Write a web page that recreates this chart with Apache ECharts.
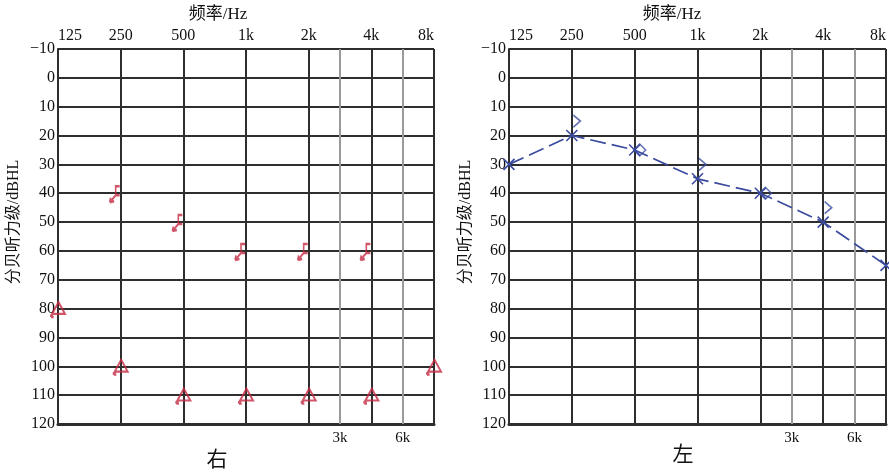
<!DOCTYPE html>
<html><head><meta charset="utf-8">
<script src="https://cdn.jsdelivr.net/npm/echarts@6/dist/echarts.min.js"></script>
<style>html,body{margin:0;padding:0;background:#fff}#c{width:889px;height:473px}</style>
</head><body><div id="c"></div>
<script>
// ---- data ----
const freqLabels = ['125', '250', '500', '1k', '2k', '4k', '8k'];
const midFreqLabels = ['3k', '6k'];          // drawn between 2k–4k and 4k–8k
const midFreqPos = [4.5, 5.5];
const dbTicks = [-10, 0, 10, 20, 30, 40, 50, 60, 70, 80, 90, 100, 110, 120];
// right ear (右)
const rightBoneMaskedNR = [null, 40, 50, 60, 60, 60, null];
const rightAirMaskedNR = [80, 100, 110, 110, 110, 110, 100];
// left ear (左)
const leftAir = [30, 20, 25, 35, 40, 50, 65];
const leftBone = [null, 15, 25, 30, 40, 45, null];
const leftBoneDiamondFreqs = ['500', '2k'];

// ---- helpers ----
const pts = arr => arr.map((v, i) => v == null ? null : [i, v]).filter(p => p);
const FONT = "'Liberation Serif','Noto Sans CJK SC',serif";
const GRID = '#2e2e2e';
const RED = '#c42a44';
const BLUE = '#3b4b9e';
const BRACKET = 'path://M10,0 L6,0 L6,9 L10,9 M6,9 L1,15 M0,16 L1,11.5 M0,16 L4.5,15';
const TRI = 'path://M7,0 L13,11 L1,11 Z M2,11 L0,14 M0,14 L0,11.5 M0,14 L2.5,14';
const XMARK = 'path://M0,0 L10,10 M10,0 L0,10';
const GT = 'path://M0,0 L8,6 L0,12';
const DIAM = 'path://M0,6 L6,0 L12,6 L6,12 Z';

const chart = echarts.init(document.getElementById('c'), null, {renderer: 'canvas'});
const grids = [
  {left: 58, top: 49, width: 376, height: 375},
  {left: 509, top: 49, width: 377, height: 375}
];
const xAxes = [], yAxes = [];
[0, 1].forEach(g => {
  xAxes.push({
    gridIndex: g, type: 'value', position: 'top', min: 0, max: freqLabels.length - 1, interval: 1,
    axisLine: {show: true, lineStyle: {color: GRID, width: 2}},
    axisTick: {show: false},
    splitLine: {show: true, lineStyle: {color: GRID, width: 2}},
    axisLabel: {
      margin: 5, color: '#111', fontFamily: FONT, fontSize: 16,
      alignMinLabel: 'left', alignMaxLabel: 'right',
      formatter: v => freqLabels[Math.round(v)] || ''
    }
  });
  xAxes.push({
    gridIndex: g, type: 'value', position: 'bottom', min: 0, max: freqLabels.length - 1, interval: 0.5,
    axisLine: {show: true, lineStyle: {color: GRID, width: 3}},
    axisTick: {show: false},
    splitLine: {show: false},
    axisLabel: {
      margin: 7, color: '#111', fontFamily: FONT, fontSize: 15,
      formatter: v => { const k = midFreqPos.indexOf(v); return k >= 0 ? midFreqLabels[k] : ''; }
    }
  });
  yAxes.push({
    gridIndex: g, type: 'value', inverse: true, min: dbTicks[0], max: dbTicks[dbTicks.length - 1], interval: 10,
    axisLine: {show: true, lineStyle: {color: GRID, width: 2}},
    axisTick: {show: false},
    splitLine: {show: true, lineStyle: {color: GRID, width: 2}},
    axisLabel: {
      margin: 3, color: '#111', fontFamily: FONT, fontSize: 16,
      formatter: v => v < 0 ? '\u2212' + (-v) : String(v)
    }
  });
});

const midLines = (xi, yi) => ({
  type: 'line', xAxisIndex: xi, yAxisIndex: yi, data: [], silent: true,
  markLine: {
    silent: true, symbol: 'none', label: {show: false},
    lineStyle: {color: '#9a9a9a', width: 2, type: 'solid'},
    data: midFreqPos.map(p => ({xAxis: p}))
  }
});

const series = [
  midLines(0, 0),
  midLines(2, 1),
  {
    name: '右 骨导', type: 'scatter', xAxisIndex: 0, yAxisIndex: 0, z: 5,
    data: pts(rightBoneMaskedNR),
    symbol: BRACKET, symbolSize: [10, 16], symbolOffset: [-6, 1],
    itemStyle: {color: 'rgba(0,0,0,0)', borderColor: RED, borderWidth: 2}
  },
  {
    name: '右 气导', type: 'scatter', xAxisIndex: 0, yAxisIndex: 0, z: 5,
    data: pts(rightAirMaskedNR),
    symbol: TRI, symbolSize: [14, 15], symbolOffset: [0, 1],
    itemStyle: {color: 'rgba(0,0,0,0)', borderColor: RED, borderWidth: 2}
  },
  {
    name: '左 气导', type: 'line', xAxisIndex: 2, yAxisIndex: 1, z: 5,
    data: pts(leftAir),
    symbol: XMARK, symbolSize: [11, 11], showAllSymbol: true,
    itemStyle: {color: 'rgba(0,0,0,0)', borderColor: BLUE, borderWidth: 1.6},
    lineStyle: {color: BLUE, width: 1.7, type: [16, 6]}
  },
  {
    name: '左 骨导', type: 'scatter', xAxisIndex: 2, yAxisIndex: 1, z: 5,
    data: pts(leftBone),
    symbol: (v) => leftBoneDiamondFreqs.includes(freqLabels[v[0]]) ? DIAM : GT,
    symbolSize: (v) => leftBoneDiamondFreqs.includes(freqLabels[v[0]]) ? [12, 12] : [7, 12],
    symbolOffset: [5, 0],
    itemStyle: {color: 'rgba(0,0,0,0)', borderColor: BLUE, borderWidth: 1.5}
  }
];

const txt = (text, x, y, size, rot) => ({
  type: 'text', x, y, rotation: rot || 0,
  style: {text, font: `${size}px ${FONT}`, fill: '#111', align: 'center', verticalAlign: 'middle'}
});

chart.setOption({
  backgroundColor: '#fff',
  animation: false,
  grid: grids,
  xAxis: xAxes,
  yAxis: yAxes,
  series,
  graphic: [
    txt('频率/Hz', 218, 15, 17),
    txt('频率/Hz', 672, 15, 17),
    txt('分贝听力级/dBHL', 14, 222, 16, Math.PI / 2),
    txt('分贝听力级/dBHL', 466, 222, 16, Math.PI / 2),
    txt('右', 217, 460, 21),
    txt('左', 683, 455, 21)
  ]
});
</script></body></html>
